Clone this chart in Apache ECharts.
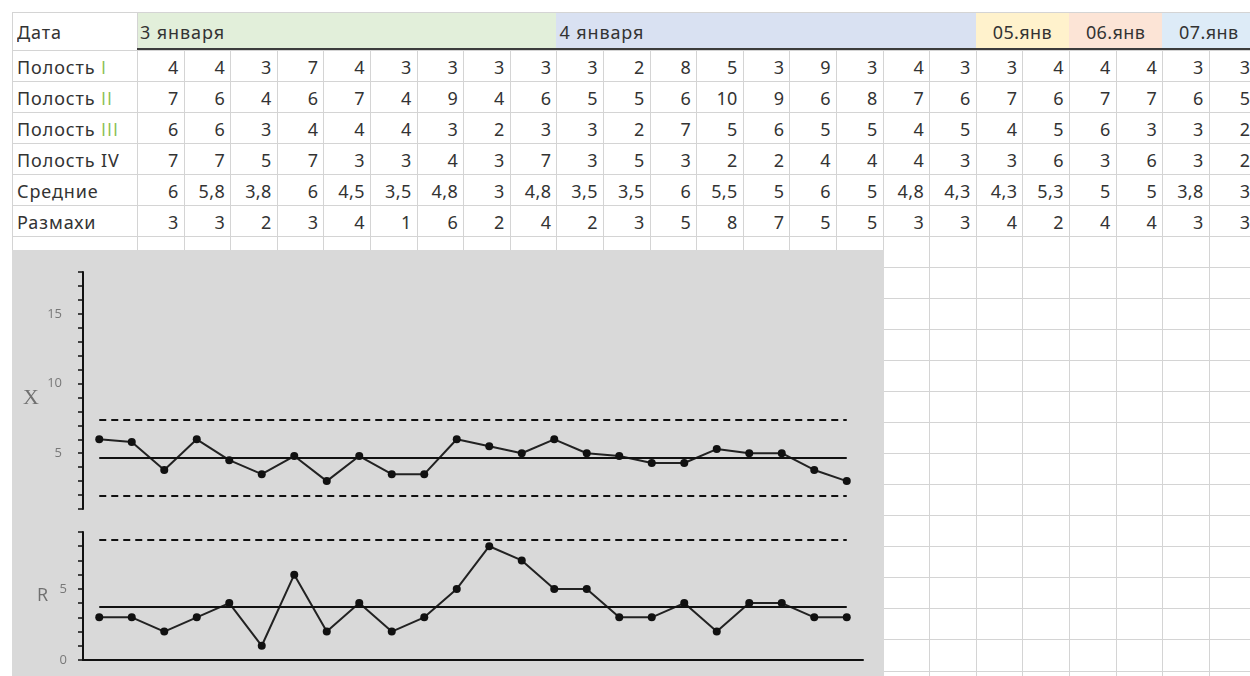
<!DOCTYPE html>
<html>
<head>
<meta charset="utf-8">
<script src="https://cdn.jsdelivr.net/npm/echarts@6.0.0/dist/echarts.min.js"></script>
<style>
    html, body {margin: 0; padding: 0; background: #fff;}
    body {width: 1250px; height: 676px; overflow: hidden; position: relative; font-family: "Noto Sans", sans-serif;}
    #sheet {position: absolute; left: 0; top: 0; width: 1250px; height: 676px; overflow: hidden;}
    .gl {position: absolute; background: #d4d4d4;}
    .txt {position: absolute; box-sizing: border-box; font-size: 18px; color: #333; white-space: nowrap; overflow: hidden; letter-spacing: 0.9px;}
    .num {text-align: right; padding-right: 5px; letter-spacing: 0.4px;}
    .roman {color: #8cbf55; font-family: "Open Sans", sans-serif;}
    #chart {position: absolute; left: 12px; top: 250px; width: 872px; height: 426px;}
</style>
</head>
<body>
<div id="sheet"></div>
<div id="chart"></div>
<script>
// samples (columns of the sheet)
var sampleNo = ['1', '2', '3', '4', '5', '6', '7', '8', '9', '10', '11', '12',
    '13', '14', '15', '16', '17', '18', '19', '20', '21', '22', '23', '24'];
var polost1 = [4, 4, 3, 7, 4, 3, 3, 3, 3, 3, 2, 8, 5, 3, 9, 3, 4, 3, 3, 4, 4, 4, 3, 3];
var polost2 = [7, 6, 4, 6, 7, 4, 9, 4, 6, 5, 5, 6, 10, 9, 6, 8, 7, 6, 7, 6, 7, 7, 6, 5];
var polost3 = [6, 6, 3, 4, 4, 4, 3, 2, 3, 3, 2, 7, 5, 6, 5, 5, 4, 5, 4, 5, 6, 3, 3, 2];
var polost4 = [7, 7, 5, 7, 3, 3, 4, 3, 7, 3, 5, 3, 2, 2, 4, 4, 4, 3, 3, 6, 3, 6, 3, 2];
var means = [6, 5.8, 3.8, 6, 4.5, 3.5, 4.8, 3, 4.8, 3.5, 3.5, 6, 5.5, 5, 6, 5, 4.8, 4.3, 4.3, 5.3, 5, 5, 3.8, 3];
var ranges = [3, 3, 2, 3, 4, 1, 6, 2, 4, 2, 3, 5, 8, 7, 5, 5, 3, 3, 4, 2, 4, 4, 3, 3];

var rowNames = ['Полость ', 'Полость ', 'Полость ', 'Полость IV', 'Средние', 'Размахи'];
var rowRoman = ['I', 'II', 'III', '', '', ''];
var dateHeaders = ['3 января', '4 января', '05.янв', '06.янв', '07.янв'];
var dateStart = [0, 9, 18, 20, 22];
var dateSpan = [9, 9, 2, 2, 2];
var dateColors = ['#e2efda', '#d9e1f2', '#fff2cc', '#fce4d6', '#ddebf7'];

// control limits
var xCenter = 4.68, xUcl = 7.38, xLcl = 1.97;
var rCenter = 3.71, rUcl = 8.46;

var xTicksLabelled = [5, 10, 15];
var rTicksLabelled = [0, 5];

// ---- the spreadsheet behind the chart ----
var COL0 = 12, COL1 = 137, COLW = 46.6, HEADY = 12, ROWY = 49.5, ROWH = 31.05, ROWS = 21;
var sheet = document.getElementById('sheet');

function el(cls, css, html) {
    var d = document.createElement('div');
    d.className = cls;
    d.style.cssText = css;
    if (html !== undefined) d.innerHTML = html;
    sheet.appendChild(d);
    return d;
}
function fmt(v) {
    return String(v).replace('.', ',');
}

// header fills
dateHeaders.forEach(function (t, i) {
    var x = COL1 + dateStart[i] * COLW;
    var w = dateSpan[i] * COLW;
    el('txt', 'left:' + x + 'px;top:' + HEADY + 'px;width:' + w + 'px;height:' + (ROWY - HEADY) + 'px;'
        + 'background:' + dateColors[i] + ';line-height:' + (ROWY - HEADY + 3) + 'px;'
        + 'text-align:' + (dateSpan[i] > 2 ? 'left;padding-left:3px' : 'center;letter-spacing:0.4px'), t);
});
el('txt', 'left:' + (COL0 + 5) + 'px;top:' + HEADY + 'px;width:120px;height:' + (ROWY - HEADY) + 'px;line-height:'
    + (ROWY - HEADY + 3) + 'px;', 'Дата');

// grid lines
var i, k;
for (i = 0; i <= ROWS; i++) {
    var y = Math.round(ROWY + i * ROWH);
    el('gl', 'left:' + COL0 + 'px;top:' + y + 'px;width:' + (1250 - COL0) + 'px;height:1px;');
}
el('gl', 'left:' + COL0 + 'px;top:' + HEADY + 'px;width:' + (1250 - COL0) + 'px;height:1px;');
el('gl', 'left:' + COL0 + 'px;top:' + HEADY + 'px;width:1px;height:' + (676 - HEADY) + 'px;');
el('gl', 'left:' + COL1 + 'px;top:' + HEADY + 'px;width:1px;height:' + (676 - HEADY) + 'px;');
for (k = 1; k <= 24; k++) {
    var x = Math.round(COL1 + k * COLW);
    el('gl', 'left:' + x + 'px;top:' + ROWY + 'px;width:1px;height:' + (676 - ROWY) + 'px;');
}
el('gl', 'left:' + COL1 + 'px;top:' + (ROWY - 1.5) + 'px;width:' + (1250 - COL1) + 'px;height:2px;background:#3c3c3c;');

// rows
var tableRows = [polost1, polost2, polost3, polost4, means, ranges];
tableRows.forEach(function (vals, r) {
    var top = ROWY + r * ROWH;
    var lab = rowNames[r] + (rowRoman[r] ? '<span class="roman">' + rowRoman[r] + '</span>' : '');
    el('txt', 'left:' + (COL0 + 5) + 'px;top:' + top + 'px;width:122px;height:' + ROWH + 'px;line-height:' + (ROWH + 3) + 'px;', lab);
    vals.forEach(function (v, c) {
        el('txt num', 'left:' + (COL1 + c * COLW) + 'px;top:' + top + 'px;width:' + COLW + 'px;height:' + ROWH
            + 'px;line-height:' + (ROWH + 3) + 'px;', fmt(v));
    });
});

// ---- the X / R control chart ----
var chart = echarts.init(document.getElementById('chart'));

var axisBlack = {color: '#111', width: 2};

function limitLine(value, dashed) {
    return [
        {coord: [sampleNo[0], value], lineStyle: {color: '#111', width: 2, type: dashed ? [7, 5] : 'solid'}},
        {coord: [sampleNo[sampleNo.length - 1], value]}
    ];
}

var option = {
    animation: false,
    backgroundColor: '#d9d9d9',
    grid: [
        {left: 71, top: 22, width: 780, height: 237},
        {left: 71, top: 282, width: 780, height: 128}
    ],
    xAxis: [
        {type: 'category', gridIndex: 0, data: sampleNo, show: false},
        {
            type: 'category', gridIndex: 1, data: sampleNo,
            axisLine: {lineStyle: axisBlack},
            axisTick: {show: false},
            axisLabel: {show: false}
        }
    ],
    yAxis: [
        {
            type: 'value', gridIndex: 0, min: 1, max: 18, interval: 1,
            name: 'X', nameLocation: 'middle', nameRotate: 0, nameGap: 44,
            nameTextStyle: {fontFamily: 'Liberation Serif', fontSize: 22, color: '#707070',
                verticalAlign: 'top', lineHeight: 16},
            axisLine: {show: true, lineStyle: axisBlack},
            axisTick: {show: true, length: 5, lineStyle: {color: '#111', width: 1.5}},
            axisLabel: {
                margin: 21, color: '#787878', fontSize: 13, fontFamily: 'Open Sans',
                formatter: function (v) {
                    return xTicksLabelled.indexOf(v) > -1 ? v : '';
                }
            },
            splitLine: {show: false}
        },
        {
            type: 'value', gridIndex: 1, min: 0, max: 9, interval: 1,
            name: 'R', nameLocation: 'middle', nameRotate: 0, nameGap: 35,
            nameTextStyle: {fontFamily: 'Open Sans', fontSize: 18, color: '#707070'},
            axisLine: {show: true, lineStyle: axisBlack},
            axisTick: {show: true, length: 5, lineStyle: {color: '#111', width: 1.5}},
            axisLabel: {
                margin: 16, color: '#787878', fontSize: 13, fontFamily: 'Open Sans',
                formatter: function (v) {
                    return rTicksLabelled.indexOf(v) > -1 ? v : '';
                }
            },
            splitLine: {show: false}
        }
    ],
    series: [
        {
            name: 'Средние', type: 'line', xAxisIndex: 0, yAxisIndex: 0,
            data: means,
            symbol: 'circle', symbolSize: 8,
            itemStyle: {color: '#111'},
            lineStyle: {color: '#222', width: 2},
            markLine: {
                silent: true, symbol: 'none', label: {show: false},
                data: [limitLine(xCenter, false), limitLine(xUcl, true), limitLine(xLcl, true)]
            }
        },
        {
            name: 'Размахи', type: 'line', xAxisIndex: 1, yAxisIndex: 1,
            data: ranges,
            symbol: 'circle', symbolSize: 8,
            itemStyle: {color: '#111'},
            lineStyle: {color: '#222', width: 2},
            markLine: {
                silent: true, symbol: 'none', label: {show: false},
                data: [limitLine(rCenter, false), limitLine(rUcl, true)]
            }
        }
    ]
};
chart.setOption(option);
</script>
</body>
</html>
